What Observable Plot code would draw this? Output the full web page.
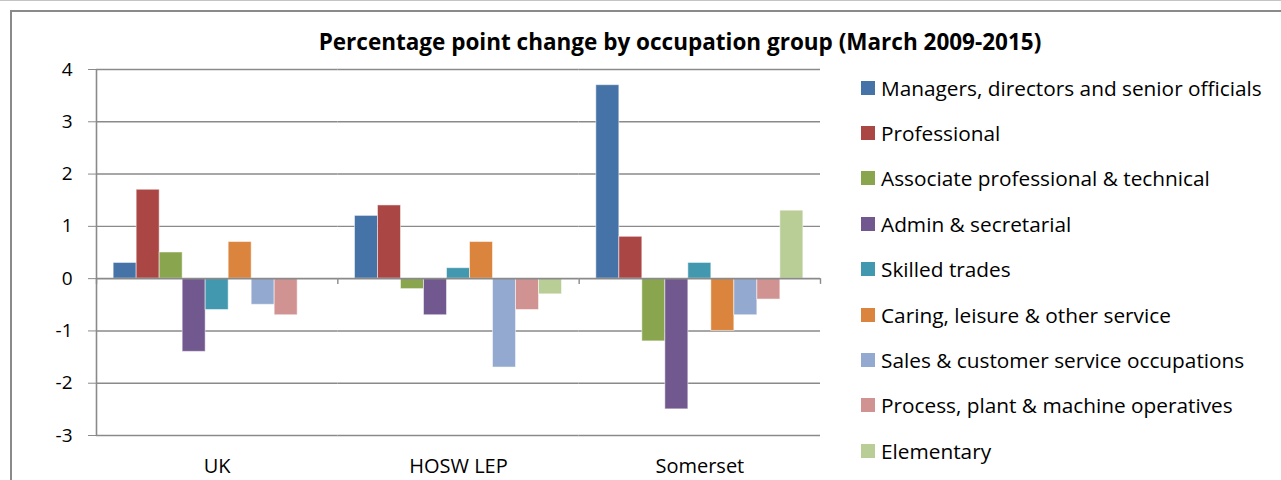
<!DOCTYPE html>
<html>
<head>
<meta charset="utf-8">
<script src="https://cdn.jsdelivr.net/npm/d3@7"></script>
<script src="https://cdn.jsdelivr.net/npm/@observablehq/plot@0.6"></script>
<style>
  html, body { margin: 0; padding: 0; background: #fff; }
  #chart { position: relative; width: 1281px; height: 480px; overflow: hidden; font-family: "Open Sans", Lato, sans-serif; color: #000; }
  .line-top { position: absolute; left: 0; top: 0; width: 1281px; height: 1px; background: #c4c4c4; }
  .box-top { position: absolute; left: 10px; top: 10px; width: 1271px; height: 2px; background: #8a8a8a; }
  .box-left { position: absolute; left: 10px; top: 10px; width: 2px; height: 470px; background: #8a8a8a; }
  #title { position: absolute; left: 0; top: 28px; width: 1360px; text-align: center; font-weight: bold; font-size: 22.5px; line-height: 28px; white-space: nowrap; }
  #row { position: absolute; left: 0; top: 50px; display: flex; }
  #row svg text { fill: #000; }
  #legend { padding-left: 31px; padding-top: 15px; }
  .item { height: 45.4px; display: flex; align-items: center; font-size: 20.8px; white-space: nowrap; }
  .sw { width: 14px; height: 14px; margin-right: 6px; flex: none; }
</style>
</head>
<body>
<div id="chart">
  <div class="line-top"></div>
  <div class="box-top"></div>
  <div class="box-left"></div>
  <div id="title"></div>
  <div id="row"><div id="plot"></div><div id="legend"></div></div>
</div>
<script>
const title = "Percentage point change by occupation group (March 2009-2015)";
const regions = ["UK", "HOSW LEP", "Somerset"];
const occupations = [
  "Managers, directors and senior officials",
  "Professional",
  "Associate professional & technical",
  "Admin & secretarial",
  "Skilled trades",
  "Caring, leisure & other service",
  "Sales & customer service occupations",
  "Process, plant & machine operatives",
  "Elementary"
];
const colors = ["#4572A7", "#AA4643", "#89A54E", "#71588F", "#4198AF", "#DB843D", "#93A9CF", "#D19392", "#B9CD96"];
const ukValues       = [0.3, 1.7, 0.5, -1.4, -0.6, 0.7, -0.5, -0.7, 0.0];
const hoswValues     = [1.2, 1.4, -0.2, -0.7, 0.2, 0.7, -1.7, -0.6, -0.3];
const somersetValues = [3.7, 0.8, -1.2, -2.5, 0.3, -1.0, -0.7, -0.4, 1.3];
const yTicks = [-3, -2, -1, 0, 1, 2, 3, 4];

const seriesByRegion = [ukValues, hoswValues, somersetValues];
const data = regions.flatMap((r, i) => occupations.map((o, j) => ({region: r, occupation: o, value: seriesByRegion[i][j]})));

document.getElementById("title").textContent = title;

const grid = "#8a8a8a";
const W = 830, ML = 96, MR = 10;
const outerPad = 0.746;
const facetWidth = (W - ML - MR) / regions.length;
const step = facetWidth / (occupations.length + 2 * outerPad);
const edge = (0.5 + outerPad) * step;

const plot = Plot.plot({
  width: W,
  height: 430,
  marginLeft: ML,
  marginRight: MR,
  marginTop: 19,
  marginBottom: 45,
  style: {fontFamily: "'Open Sans', Lato, sans-serif", fontSize: "19px", color: grid, background: "transparent"},
  fx: {domain: regions, axis: "bottom", padding: 0, round: false, tickSize: 0, tickPadding: 23, label: null},
  x: {domain: occupations, axis: null, paddingInner: 0, paddingOuter: outerPad, round: false},
  y: {domain: [-3, 4], ticks: yTicks, tickSize: 8, tickPadding: 16, tickFormat: d => String(d), label: null},
  color: {domain: occupations, range: colors},
  marks: [
    Plot.ruleY(yTicks.filter(d => d !== 0), {y: d => d, stroke: grid, strokeWidth: 1.4}),
    Plot.barY(data, {fx: "region", x: "occupation", y: "value", fill: "occupation", stroke: "#ffffff", strokeOpacity: 0.5, strokeWidth: 1}),
    Plot.ruleY([0], {stroke: grid, strokeWidth: 1.6}),
    Plot.ruleX(regions.slice(0, 1), {fx: d => d, x: () => occupations[0], y1: -3, y2: 4, dx: -edge, stroke: grid, strokeWidth: 1.6}),
    Plot.ruleX(regions, {fx: d => d, x: () => occupations[0], y1: 0, y2: -0.11, dx: -edge, stroke: grid, strokeWidth: 1.4}),
    Plot.ruleX(regions.slice(-1), {fx: d => d, x: () => occupations[occupations.length - 1], y1: 0, y2: -0.11, dx: edge, stroke: grid, strokeWidth: 1.4})
  ]
});
document.getElementById("plot").appendChild(plot);
plot.querySelectorAll("g[aria-label='fx-axis tick label'] text, g[aria-label='fx-axis'] text").forEach(t => t.style.fontSize = "20px");

const legend = document.getElementById("legend");
occupations.forEach((o, i) => {
  const item = document.createElement("div");
  item.className = "item";
  const sw = document.createElement("span");
  sw.className = "sw";
  sw.style.background = colors[i];
  const t = document.createElement("span");
  t.textContent = o;
  item.appendChild(sw);
  item.appendChild(t);
  legend.appendChild(item);
});
</script>
</body>
</html>
